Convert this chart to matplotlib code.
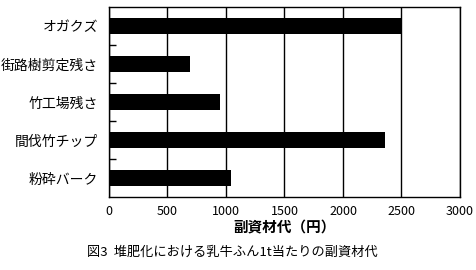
import matplotlib
matplotlib.use("Agg")
import matplotlib.pyplot as plt
import numpy as np

plt.rcParams['font.family'] = ['Noto Sans CJK JP', 'DejaVu Sans']

categories = ['オガクズ', '街路樹剪定残さ', '竹工場残さ', '間伐竹チップ', '粉砕バーク']
costs = [2500, 690, 950, 2360, 1040]
x_ticks = [0, 500, 1000, 1500, 2000, 2500, 3000]

fig = plt.figure(figsize=(4.77, 2.70), dpi=100)
ax = fig.add_axes([109 / 477, 1 - 197 / 270, 351 / 477, 190 / 270])

y = np.arange(len(categories))
ax.barh(y, costs, height=0.4, color='black', zorder=3)
ax.set_ylim(len(categories) - 0.5, -0.5)
ax.set_xlim(0, 3000)

ax.set_xticks(x_ticks)
ax.set_xticklabels([str(v) for v in x_ticks], fontsize=9)
ax.set_yticks(y)
ax.set_yticklabels(categories, fontsize=10)
ax.set_yticks(np.arange(0.5, len(categories) - 1, 1), minor=True)
ax.tick_params(axis='y', which='major', length=0, pad=8)
ax.tick_params(axis='y', which='minor', direction='in', length=5, width=1, color='black')
ax.tick_params(axis='x', length=0, pad=6)

ax.grid(axis='x', color='black', linewidth=1, zorder=1)
for s in ax.spines.values():
    s.set_linewidth(1)

ax.set_xlabel('副資材代（円）', fontsize=10.5, fontweight='bold', labelpad=1)
fig.text(87 / 477, 1 - 252 / 270, '図3  堆肥化における乳牛ふん1t当たりの副資材代', fontsize=9.5, va='center')

fig.savefig('out.png', dpi=100)
